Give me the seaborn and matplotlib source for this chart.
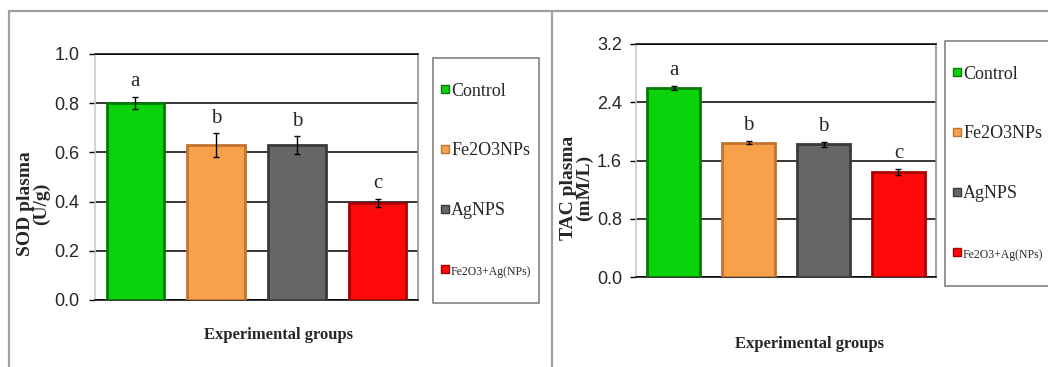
import matplotlib
matplotlib.use("Agg")
import matplotlib.pyplot as plt
import numpy as np
from matplotlib.legend_handler import HandlerLine2D
from matplotlib.lines import Line2D
import seaborn as sns

# groups and styling
groups = ["Control", "Fe2O3NPs", "AgNPS", "Fe2O3+Ag(NPs)"]
bar_colors = ["#0BD30B", "#F9A04B", "#666666", "#FF0A0A"]
edge_colors = ["#067A06", "#C07430", "#3A3A3A", "#A80000"]

# SOD plasma (U/g)
sod_mean = [0.80, 0.63, 0.63, 0.395]
sod_err = [0.025, 0.048, 0.035, 0.016]
sod_letters = ["a", "b", "b", "c"]
sod_ticks = [0.0, 0.2, 0.4, 0.6, 0.8, 1.0]

# TAC plasma (mM/L)
tac_mean = [2.60, 1.845, 1.82, 1.447]
tac_err = [0.03, 0.025, 0.04, 0.04]
tac_letters = ["a", "b", "b", "c"]
tac_ticks = [0.0, 0.8, 1.6, 2.4, 3.2]

SERIF = ["Liberation Serif", "DejaVu Serif"]
SANS = ["Liberation Sans", "DejaVu Sans"]

sns.set_style("white")
plt.rcParams["font.family"] = SERIF

W, H = 1048, 367


class LoweredMarker(HandlerLine2D):
    """square legend marker, moved down so it sits level with the label"""
    def create_artists(self, legend, orig_handle, xdescent, ydescent,
                       width, height, fontsize, trans):
        artists = super().create_artists(legend, orig_handle, xdescent,
                                         ydescent, width, height, fontsize, trans)
        for a in artists:
            a.set_ydata(np.asarray(a.get_ydata()) - 0.5 * fontsize)
        return artists


def fig_rect(x0, y0, x1, y1):
    """pixel box (top-left origin) -> figure fraction rect"""
    return [x0 / W, 1 - y1 / H, (x1 - x0) / W, (y1 - y0) / H]


def draw_panel(ax, means, errs, letters, ticks, ylabel, ylab_pos, xlab_pos,
               tick_pad, legend_xy):
    sns.barplot(x=groups, y=means, hue=groups, palette=bar_colors, ax=ax,
                legend=False, width=0.71, saturation=1, linewidth=2)
    for patch, ec in zip(ax.patches, edge_colors):
        patch.set_edgecolor(ec)
        patch.set_zorder(3)
    ax.errorbar(groups, means, yerr=errs, fmt="none", ecolor="black",
                elinewidth=1, capsize=2.5, capthick=1, zorder=4)
    for g, m, e, lt in zip(groups, means, errs, letters):
        ax.annotate(lt, (g, m + e), xytext=(0, 4), textcoords="offset points",
                    ha="center", va="bottom", fontsize=15, family=SERIF)

    ax.set_xlim(-0.5, 3.5)
    ax.set_ylim(ticks[0], ticks[-1])
    ax.set_yticks(ticks)
    ax.set_yticklabels([f"{t:.1f}" for t in ticks], family=SANS, fontsize=13)
    ax.set_xticks([])
    ax.yaxis.grid(True, color="black", linewidth=1.1, zorder=0)
    ax.set_axisbelow(True)
    ax.tick_params(axis="y", left=True, length=4, width=1, color="black",
                   pad=tick_pad)
    ax.spines["left"].set_color("#c8c8c8")
    ax.spines["right"].set_color("#8a8a8a")
    ax.spines["top"].set_color("black")
    ax.spines["bottom"].set_color("black")
    for s in ax.spines.values():
        s.set_linewidth(1.1)

    ax.set_ylabel(ylabel, fontsize=14, fontweight="bold", family=SERIF,
                  linespacing=0.9)
    ax.yaxis.set_label_coords(*ylab_pos)
    ax.set_xlabel("Experimental groups", fontsize=12, fontweight="bold",
                  family=SERIF)
    ax.xaxis.set_label_coords(*xlab_pos)

    handles = [Line2D([], [], marker="s", linestyle="none", markersize=6,
                      markerfacecolor=c, markeredgecolor=ec, markeredgewidth=1)
               for c, ec in zip(bar_colors, edge_colors)]
    leg = ax.legend(handles, groups, loc="upper left",
                    bbox_to_anchor=(legend_xy[0] / W, 1 - legend_xy[1] / H),
                    bbox_transform=fig.transFigure, frameon=True,
                    fancybox=False, borderpad=0.4, handlelength=0.5,
                    handleheight=3.96, labelspacing=0.5, handletextpad=0.1,
                    borderaxespad=0, prop={"family": SERIF, "size": 13},
                    handler_map={Line2D: LoweredMarker()})
    leg.get_frame().set_edgecolor("#555555")
    leg.get_frame().set_linewidth(1.1)
    leg.get_texts()[3].set_fontsize(8.5)
    return ax


fig = plt.figure(figsize=(W / 100, H / 100), dpi=100)

ax1 = fig.add_axes(fig_rect(95, 54, 418, 300))
draw_panel(ax1, sod_mean, sod_err, sod_letters, sod_ticks,
           "SOD plasma\n(U/g)", (-0.139, 0.39), (0.567, -0.11), 7,
           (433, 58))

ax2 = fig.add_axes(fig_rect(636, 44, 936, 277))
draw_panel(ax2, tac_mean, tac_err, tac_letters, tac_ticks,
           "TAC plasma\n(mM/L)", (-0.143, 0.382), (0.58, -0.255), 6,
           (945, 41))

# page frame lines around the two panels
frame_kw = dict(color="#a0a0a0", linewidth=1.6, transform=fig.transFigure)
fig.add_artist(Line2D([8.5 / W, 1], [1 - 10.5 / H, 1 - 10.5 / H], **frame_kw))
fig.add_artist(Line2D([8.5 / W, 8.5 / W], [0, 1 - 10.5 / H], **frame_kw))
fig.add_artist(Line2D([552 / W, 552 / W], [0, 1 - 10.5 / H], **frame_kw))

fig.savefig("out.png", dpi=100)
